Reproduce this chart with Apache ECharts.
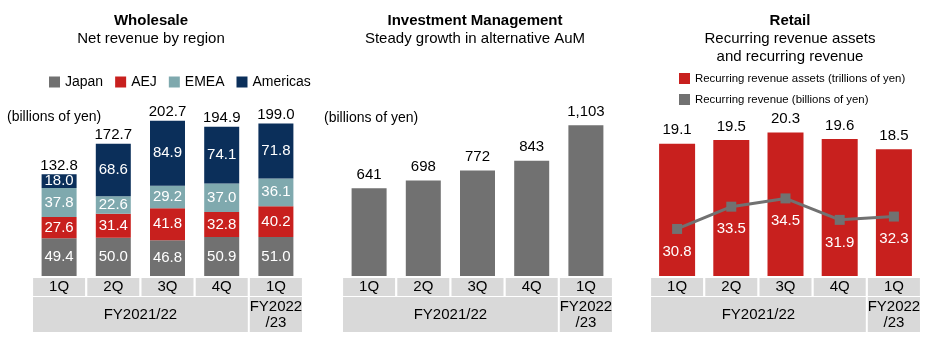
<!DOCTYPE html>
<html><head><meta charset="utf-8">
<script src="https://cdn.jsdelivr.net/npm/echarts@6/dist/echarts.min.js"></script>
<style>html,body{margin:0;padding:0;background:#fff}#c{width:950px;height:350px}</style>
</head><body><div id="c"></div>
<script>
const quarters = ['1Q','2Q','3Q','4Q','1Q'];
const fiscalYears = ['FY2021/22','FY2022\n/23'];
const fiscalSpan = [4,1];
const japan = [49.4,50.0,46.8,50.9,51.0];
const aej = [27.6,31.4,41.8,32.8,40.2];
const emea = [37.8,22.6,29.2,37.0,36.1];
const americas = [18.0,68.6,84.9,74.1,71.8];
const wholesaleTotal = [132.8,172.7,202.7,194.9,199.0];
const altAum = [641,698,772,843,1103];
const recurringAssets = [19.1,19.5,20.3,19.6,18.5];
const recurringRevenue = [30.8,33.5,34.5,31.9,32.3];

const FONT = "'Liberation Sans', Arial, sans-serif";
const C = {japan:'#717171', aej:'#c8201e', emea:'#7fa9ae', americas:'#0b2f5a', gray:'#717171', red:'#c8201e', cell:'#d9d9d9'};

const chart = echarts.init(document.getElementById('c'), null, {renderer:'canvas'});
const yMin = [0, 0, 5];

function xAx(i){
  return {type:'category', gridIndex:i, data:quarters,
    axisLine:{show:false}, axisTick:{show:false},
    axisLabel:{margin:2, backgroundColor:C.cell, width:52, height:18, lineHeight:18, align:'center',
      fontSize:15, color:'#000', fontFamily:FONT}};
}
const inLbl = {show:true, position:'inside', color:'#fff', fontSize:15, fontFamily:FONT, formatter:p=>p.value.toFixed(1)};
function stackBar(name, data, color){
  return {name, type:'bar', stack:'w', xAxisIndex:0, yAxisIndex:0, barWidth:35, data,
    itemStyle:{color}, label:inLbl};
}

const option = {
  animation:false,
  textStyle:{fontFamily:FONT},
  title:[
    {text:'Wholesale', subtext:'Net revenue by region', left:151, top:12, textAlign:'center', padding:0, itemGap:0,
      textStyle:{fontSize:15, fontWeight:'bold', color:'#000', lineHeight:18, fontFamily:FONT},
      subtextStyle:{fontSize:15, color:'#000', lineHeight:18, fontFamily:FONT}},
    {text:'Investment Management', subtext:'Steady growth in alternative AuM', left:475, top:12, textAlign:'center', padding:0, itemGap:0,
      textStyle:{fontSize:15, fontWeight:'bold', color:'#000', lineHeight:18, fontFamily:FONT},
      subtextStyle:{fontSize:15, color:'#000', lineHeight:18, fontFamily:FONT}},
    {text:'Retail', subtext:'Recurring revenue assets\nand recurring revenue', left:790, top:12, textAlign:'center', padding:0, itemGap:0,
      textStyle:{fontSize:15, fontWeight:'bold', color:'#000', lineHeight:18, fontFamily:FONT},
      subtextStyle:{fontSize:15, color:'#000', lineHeight:18, fontFamily:FONT}},
    {text:'(billions of yen)', left:7, top:109, padding:0,
      textStyle:{fontSize:14, fontWeight:'normal', color:'#000', lineHeight:16, fontFamily:FONT}},
    {text:'(billions of yen)', left:324, top:110, padding:0,
      textStyle:{fontSize:14, fontWeight:'normal', color:'#000', lineHeight:16, fontFamily:FONT}}
  ],
  legend:[
    {data:['Japan','AEJ','EMEA','Americas'].map(n=>({name:n, icon:'rect'})), left:49, top:75, padding:0,
      itemWidth:11, itemHeight:11, itemGap:12, textStyle:{fontSize:14, color:'#000', fontFamily:FONT}},
    {data:[{name:'Recurring revenue assets (trillions of yen)', icon:'rect'},{name:'Recurring revenue (billions of yen)', icon:'rect'}],
      orient:'vertical', left:679, top:73, padding:0, itemWidth:11, itemHeight:11, itemGap:10,
      textStyle:{fontSize:11.4, color:'#000', fontFamily:FONT}}
  ],
  grid:[
    {left:32, width:271, top:84.5, height:191.5},
    {left:342, width:271, top:84.5, height:191.5},
    {left:650, width:271, top:84.5, height:191.5}
  ],
  xAxis:[xAx(0), xAx(1), xAx(2)],
  yAxis:[
    {type:'value', gridIndex:0, min:0, max:250, show:false},
    {type:'value', gridIndex:1, min:0, max:1400, show:false},
    {type:'value', gridIndex:2, min:5, max:25.4, show:false},
    {type:'value', gridIndex:2, min:25.1, max:48.3, show:false}
  ],
  series:[
    stackBar('Japan', japan, C.japan),
    stackBar('AEJ', aej, C.aej),
    stackBar('EMEA', emea, C.emea),
    stackBar('Americas', americas, C.americas),
    {name:'Total', type:'bar', stack:'w', xAxisIndex:0, yAxisIndex:0, barWidth:35, data:wholesaleTotal.map(()=>0),
      itemStyle:{color:'transparent'},
      label:{show:true, position:'top', distance:1, color:'#000', fontSize:15, fontFamily:FONT,
        formatter:p=>wholesaleTotal[p.dataIndex].toFixed(1)}},
    {name:'Alternative AuM', type:'bar', xAxisIndex:1, yAxisIndex:1, barWidth:35, data:altAum,
      itemStyle:{color:C.gray},
      label:{show:true, position:'top', distance:6, color:'#000', fontSize:15, fontFamily:FONT,
        formatter:p=>p.value.toLocaleString('en-US')}},
    {name:'Recurring revenue assets (trillions of yen)', type:'bar', xAxisIndex:2, yAxisIndex:2, barWidth:36, data:recurringAssets,
      itemStyle:{color:C.red},
      label:{show:true, position:'top', distance:6, color:'#000', fontSize:15, fontFamily:FONT,
        formatter:p=>p.value.toFixed(1)}},
    {name:'Recurring revenue (billions of yen)', type:'line', xAxisIndex:2, yAxisIndex:3, data:recurringRevenue,
      lineStyle:{color:C.gray, width:3}, itemStyle:{color:C.gray}, symbol:'rect', symbolSize:10,
      label:{show:true, position:'bottom', distance:10, color:'#fff', fontSize:15, fontFamily:FONT,
        formatter:p=>p.value.toFixed(1)}}
  ]
};
chart.setOption(option);

const g = [];
[0,1,2].forEach(i=>{
  const c0 = chart.convertToPixel({xAxisIndex:i}, 0);
  const c1 = chart.convertToPixel({xAxisIndex:i}, 1);
  const step = c1 - c0;
  const yb = chart.convertToPixel({yAxisIndex:i}, yMin[i]);
  let start = 0;
  fiscalSpan.forEach((n,k)=>{
    const xl = chart.convertToPixel({xAxisIndex:i}, start) - step/2 + 1;
    const xr = chart.convertToPixel({xAxisIndex:i}, start+n-1) + step/2 - 1;
    g.push({type:'rect', silent:true, shape:{x:xl, y:yb+21, width:xr-xl, height:35}, style:{fill:C.cell}});
    g.push({type:'text', silent:true, x:(xl+xr)/2, y:yb+21+17.5,
      style:{text:fiscalYears[k], fill:'#000', fontSize:15, fontFamily:FONT, align:'center', verticalAlign:'middle', lineHeight:16}});
    start += n;
  });
});
chart.setOption({graphic:g});
</script>
</body></html>
